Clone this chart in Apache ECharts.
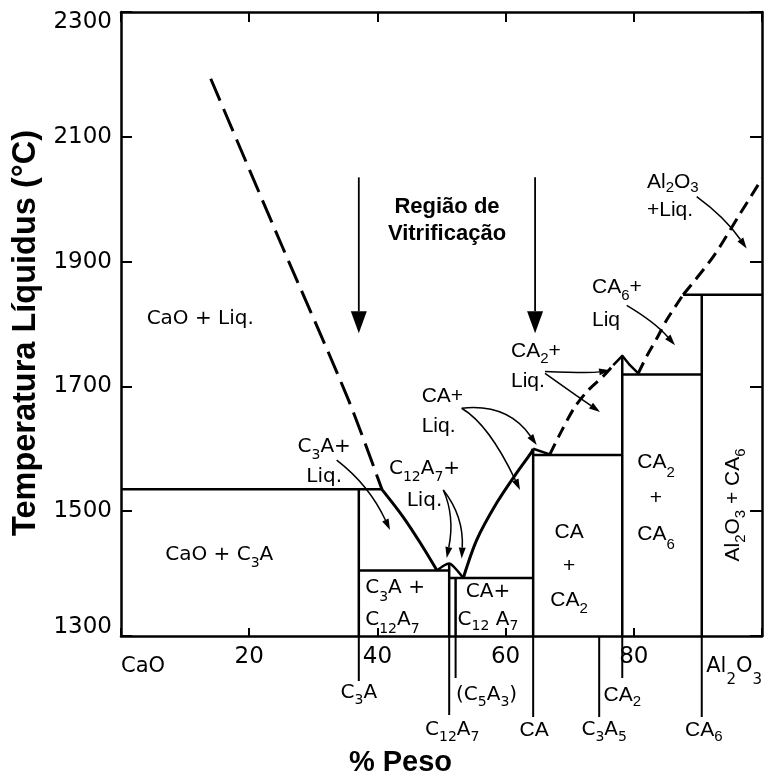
<!DOCTYPE html>
<html lang="pt">
<head>
<meta charset="utf-8">
<title>Diagrama de fases CaO–Al2O3</title>
<script src="https://cdn.jsdelivr.net/npm/echarts@6/dist/echarts.min.js"></script>
<style>
  html, body { margin: 0; padding: 0; background: #fff; }
  #chart { width: 767px; height: 781px; }
</style>
</head>
<body>
<div id="chart"></div>
<script>
// ---------- Axis scales ----------
const tempMin = 1300, tempMax = 2300, tempStep = 200;
const tempTicks = [1300, 1500, 1700, 1900, 2100, 2300];
const wtTicks = [0, 20, 40, 60, 80, 100];
const wtTickLabels = ['CaO', '20', '40', '60', '80', 'Al_2O_3'];

// ---------- Compounds (% peso Al2O3) ----------
const compoundNames = ['C_3A', 'C_{12}A_7', '(C_5A_3)', 'CA', 'C_3A_5', 'CA_2', 'CA_6'];
const compoundWt = [37.1, 51.2, 52.2, 64.3, 74.6, 78.2, 90.6];
const compoundTopT = [1535, 1416, 1393, 1600, null, 1749, 1847];

// ---------- Liquidus, determined (solid) ----------
const liqC3A = [[40.7, 1535], [44.0, 1491], [46.7, 1449], [49.3, 1405]];
const liqC12A7 = [[49.3, 1405], [50.4, 1413], [51.2, 1416], [51.9, 1411], [53.4, 1393]];
const liqCA = [[53.4, 1393], [55.5, 1454], [58.6, 1513], [61.7, 1561], [64.0, 1594], [64.3, 1600]];
const liqCAEutectic = [[64.3, 1600], [66.9, 1591]];
const liqCA2Peak = [[76.8, 1734], [78.2, 1749], [79.4, 1734], [80.7, 1721]];

// ---------- Liquidus, estimated (dashed) ----------
const liqCaO = [[14.0, 2193], [24.7, 1935], [35.5, 1678], [40.7, 1535]];
const liqCA2 = [[66.9, 1591], [68.8, 1630], [70.8, 1667], [72.9, 1694], [75.2, 1716], [76.8, 1734]];
const liqCA6 = [[80.7, 1721], [82.0, 1748], [83.6, 1777], [85.1, 1806], [87.7, 1847]];
const liqAl2O3 = [[87.7, 1847], [92.4, 1908], [96.6, 1977], [100, 2033]];

// ---------- Invariant isotherms ----------
const isoPeritecticC3A = [[0, 1535], [40.7, 1535]];
const isoEutecticC3A_C12A7 = [[37.1, 1405], [51.2, 1405]];
const isoEutecticC12A7_CA = [[51.2, 1393], [64.3, 1393]];
const isoEutecticCA_CA2 = [[64.3, 1590], [78.2, 1590]];
const isoEutecticCA2_CA6 = [[78.2, 1719], [90.6, 1719]];
const isoPeritecticCA6 = [[87.7, 1847], [100, 1847]];

// ---------- Glass-forming region markers ----------
const vitrArrowWt = [37.1, 64.6];
const vitrArrowT = [2035, 1785];

// ---------- Pointer arrows: [wt0, T0, wtCtrl, TCtrl, wt1, T1] ----------
const pointerArrows = [
  [33.65, 1582, 38.7, 1542, 41.97, 1470],   // C3A + Liq.
  [50.28, 1534, 52.1, 1492, 50.81, 1425],   // C12A7 + Liq.
  [50.28, 1534, 53.5, 1492, 53.15, 1424],
  [53.15, 1665, 60.3, 1673, 64.85, 1606],   // CA + Liq.
  [53.15, 1665, 57.4, 1639, 62.25, 1534],
  [66.15, 1724, 73.2, 1721, 76.3, 1726],    // CA2 + Liq.
  [66.15, 1721, 70.4, 1690, 74.73, 1659],
  [78.89, 1830, 83.3, 1803, 86.43, 1766],   // CA6 + Liq
  [89.81, 2004, 94.2, 1971, 97.61, 1921]    // Al2O3 + Liq.
];

// ---------- Field labels ----------
const annotations = [
  { text: 'CaO + Liq.', at: [4.0, 1809], kind: 'letter', align: 'left' },
  { text: 'CaO + C_3A', at: [6.9, 1430], kind: 'letter', align: 'left' },
  { text: 'C_3A+\nLiq.', at: [31.7, 1579], kind: 'letter', align: 'center', lh: 30 },
  { text: 'C_{12}A_7+\nLiq.', at: [47.35, 1543], kind: 'letter', align: 'center', lh: 32 },
  { text: 'CA+\nLiq.', at: [46.9, 1659.5], kind: 'helv', align: 'left', lh: 30 },
  { text: 'C_3A +\nC_{12}A_7', at: [38.1, 1351], kind: 'letter', align: 'left', lh: 32 },
  { text: 'CA+\nC_{12} A_7', at: [57.25, 1348.5], kind: 'letter', align: 'center', lh: 28 },
  { text: 'CA\n+\nCA_2', at: [69.9, 1412.5], kind: 'helv', align: 'center', lh: 34 },
  { text: 'CA_2\n+\nCA_6', at: [83.46, 1520.7], kind: 'helv', align: 'center', lh: 36 },
  { text: 'Al_2O_3 + CA_6', at: [95.5, 1510], kind: 'helv', align: 'center', rotate: 90 },
  { text: 'CA_2+\nLiq.', at: [60.84, 1731.6], kind: 'helv', align: 'left', lh: 30 },
  { text: 'CA_6+\nLiq', at: [73.48, 1833.2], kind: 'helv', align: 'left', lh: 33 },
  { text: 'Al_2O_3\n+Liq.', at: [82.06, 2005.4], kind: 'helv', align: 'left', lh: 28 },
  { text: 'Região de\nVitrificação', at: [50.86, 1966.7], kind: 'bold', align: 'center', lh: 27 }
];

// ---------- Styling ----------
const FONT_LETTER = 'DejaVu Sans';
const FONT_HELV = '"Liberation Sans", Arial, sans-serif';
const INK = '#000';

const textKinds = {
  letter: { family: FONT_LETTER, size: 20, weight: 'normal', lh: 31 },
  helv: { family: FONT_HELV, size: 21, weight: 'normal', lh: 31 },
  bold: { family: FONT_HELV, size: 22, weight: 'bold', lh: 27 }
};

// Tick length below the axis and label offset for each compound marker (px)
const compoundTickLayout = [
  { depth: 45, dx: 0, dy: 57, kind: 'letter' },
  { depth: 79, dx: 3, dy: 94, kind: 'letter' },
  { depth: 42, dx: 31, dy: 59, kind: 'letter' },
  { depth: 81, dx: 1, dy: 94, kind: 'helv' },
  { depth: 81, dx: 5, dy: 94, kind: 'letter' },
  { depth: 42, dx: 0, dy: 59, kind: 'helv' },
  { depth: 81, dx: 2, dy: 94, kind: 'helv' }
];

// 'C_{12}A_7' -> rich text with subscripts
function toRich(markup, base, sub) {
  base = base || 'b'; sub = sub || 's';
  return markup.split('\n').map(function (line) {
    let out = '';
    const re = /_\{([^}]*)\}|_(.)|([^_]+)/g;
    let m;
    while ((m = re.exec(line)) !== null) {
      if (m[3] !== undefined) out += '{' + base + '|' + m[3] + '}';
      else out += '{' + sub + '|' + (m[1] !== undefined ? m[1] : m[2]) + '}';
    }
    return out;
  }).join('\n');
}

function richFor(kind, lh) {
  const subSize = Math.round(kind.size * 0.72);
  const shift = Math.round(kind.size * 0.33);
  return {
    b: { fontFamily: kind.family, fontSize: kind.size, fontWeight: kind.weight, lineHeight: lh, fill: INK, color: INK },
    s: { fontFamily: kind.family, fontSize: subSize, fontWeight: kind.weight, lineHeight: lh - 2 * shift,
         verticalAlign: 'bottom', fill: INK, color: INK }
  };
}

function lineSeries(name, data, width, dash, smooth) {
  return {
    name: name, type: 'line', data: data, symbol: 'none', silent: true,
    smooth: smooth || false, z: 3,
    lineStyle: { color: INK, width: width, type: dash || 'solid', cap: 'butt', join: 'round' }
  };
}

function arrowRenderer(headLen, headWidth, lineWidth) {
  return function (params, api) {
    const p0 = api.coord([api.value(0), api.value(1)]);
    const c = api.coord([api.value(2), api.value(3)]);
    const p1 = api.coord([api.value(4), api.value(5)]);
    const dx = p1[0] - c[0], dy = p1[1] - c[1];
    const len = Math.sqrt(dx * dx + dy * dy) || 1;
    const ux = dx / len, uy = dy / len;
    const bx = p1[0] - ux * headLen, by = p1[1] - uy * headLen;
    const hw = headWidth / 2;
    return {
      type: 'group',
      children: [
        { type: 'bezierCurve',
          shape: { x1: p0[0], y1: p0[1], cpx1: c[0], cpy1: c[1], x2: bx, y2: by },
          style: { stroke: INK, fill: null, lineWidth: lineWidth } },
        { type: 'polygon',
          shape: { points: [[p1[0], p1[1]], [bx - uy * hw, by + ux * hw], [bx + uy * hw, by - ux * hw]] },
          style: { fill: INK } }
      ]
    };
  };
}

const tickNum = { fontFamily: FONT_LETTER, fontSize: 23, lineHeight: 22, color: INK };

const series = [
  // invariant isotherms
  lineSeries('isoPeritecticC3A', isoPeritecticC3A, 2.5),
  lineSeries('isoEutecticC3A_C12A7', isoEutecticC3A_C12A7, 2.5),
  lineSeries('isoEutecticC12A7_CA', isoEutecticC12A7_CA, 2.5),
  lineSeries('isoEutecticCA_CA2', isoEutecticCA_CA2, 2.5),
  lineSeries('isoEutecticCA2_CA6', isoEutecticCA2_CA6, 2.5),
  lineSeries('isoPeritecticCA6', isoPeritecticCA6, 2.5),
  // solid liquidus
  lineSeries('liqC3A', liqC3A, 3, 'solid', 0.3),
  lineSeries('liqC12A7', liqC12A7, 2.5, 'solid', 0.3),
  lineSeries('liqCA', liqCA, 3, 'solid', 0.3),
  lineSeries('liqCAEutectic', liqCAEutectic, 2.5),
  lineSeries('liqCA2Peak', liqCA2Peak, 2.5),
  // dashed liquidus
  lineSeries('liqCaO', liqCaO, 3, [24, 9], 0.3),
  lineSeries('liqCA2', liqCA2, 3, [12, 7], 0.3),
  lineSeries('liqCA6', liqCA6, 3, [12, 7], 0.3),
  lineSeries('liqAl2O3', liqAl2O3, 3, [13, 7], 0.3)
];

// compound verticals
compoundWt.forEach(function (w, i) {
  if (compoundTopT[i] != null) {
    series.push(lineSeries('comp-' + i, [[w, compoundTopT[i]], [w, tempMin]], 2.5));
  }
});

// compound markers below the composition axis
series.push({
  type: 'custom', name: 'compounds', clip: false, silent: true, z: 5,
  data: compoundWt.map(function (w) { return [w, tempMin]; }),
  renderItem: function (params, api) {
    const i = params.dataIndex;
    const lay = compoundTickLayout[i];
    const kind = textKinds[lay.kind];
    const p = api.coord([api.value(0), api.value(1)]);
    return {
      type: 'group',
      children: [
        { type: 'line', shape: { x1: p[0], y1: p[1], x2: p[0], y2: p[1] + lay.depth },
          style: { stroke: INK, lineWidth: 2 } },
        { type: 'text', x: p[0] + lay.dx, y: p[1] + lay.dy,
          style: { text: toRich(compoundNames[i]), rich: richFor(kind, 28),
                   align: 'center', verticalAlign: 'middle', fill: INK } }
      ]
    };
  }
});

// vertical arrows bounding the glass-forming range
series.push({
  type: 'custom', name: 'vitrification', clip: false, silent: true, z: 4,
  data: vitrArrowWt.map(function (w) {
    return [w, vitrArrowT[0], w, (vitrArrowT[0] + vitrArrowT[1]) / 2, w, vitrArrowT[1]];
  }),
  encode: { x: [0, 2, 4], y: [1, 3, 5] },
  renderItem: arrowRenderer(22, 16, 1.8)
});

// pointer arrows from field labels
series.push({
  type: 'custom', name: 'pointers', clip: false, silent: true, z: 4,
  data: pointerArrows,
  encode: { x: [0, 2, 4], y: [1, 3, 5] },
  renderItem: arrowRenderer(11, 7, 1.5)
});

// field labels
series.push({
  type: 'custom', name: 'fields', clip: false, silent: true, z: 6,
  data: annotations.map(function (a) { return a.at; }),
  renderItem: function (params, api) {
    const a = annotations[params.dataIndex];
    const kind = textKinds[a.kind];
    const p = api.coord([api.value(0), api.value(1)]);
    return {
      type: 'text', x: p[0], y: p[1],
      rotation: a.rotate ? a.rotate * Math.PI / 180 : 0,
      style: { text: toRich(a.text), rich: richFor(kind, a.lh || kind.lh),
               align: a.align, verticalAlign: 'middle', fill: INK }
    };
  }
});

const axisLineStyle = { color: INK, width: 2.5 };

const option = {
  animation: false,
  backgroundColor: '#fff',
  grid: { left: 121, right: 5, top: 12, bottom: 145, containLabel: false, outerBoundsMode: 'none' },
  xAxis: [
    {
      type: 'value', position: 'bottom', min: 0, max: 100, interval: 20,
      axisLine: { show: true, onZero: false, lineStyle: axisLineStyle },
      axisTick: { show: true, inside: true, length: 8, lineStyle: { color: INK, width: 2 } },
      splitLine: { show: false },
      axisLabel: {
        show: true, margin: 10, showMinLabel: true, showMaxLabel: true,
        alignMinLabel: 'left', alignMaxLabel: 'right',
        formatter: function (v) {
          const i = wtTicks.indexOf(v);
          if (i < 0) return '';
          if (i === 0 || i === wtTicks.length - 1) return toRich(wtTickLabels[i], 'eb', 'es');
          return '{n|' + wtTickLabels[i] + '}';
        },
        rich: {
          n: tickNum,
          eb: { fontFamily: FONT_LETTER, fontSize: 21, lineHeight: 42, color: INK },
          es: { fontFamily: FONT_LETTER, fontSize: 15, lineHeight: 28, verticalAlign: 'bottom', color: INK }
        }
      },
      name: '% Peso', nameLocation: 'middle', nameGap: 112,
      nameTextStyle: { fontFamily: FONT_HELV, fontWeight: 'bold', fontSize: 29, color: INK, padding: [0, 82, 0, 0] }
    },
    {
      type: 'value', position: 'top', min: 0, max: 100, interval: 20,
      axisLine: { show: true, onZero: false, lineStyle: axisLineStyle },
      axisTick: { show: true, inside: true, length: 10, lineStyle: { color: INK, width: 2 } },
      axisLabel: { show: false }, splitLine: { show: false }
    }
  ],
  yAxis: [
    {
      type: 'value', position: 'left', min: tempMin, max: tempMax, interval: tempStep,
      axisLine: { show: true, onZero: false, lineStyle: axisLineStyle },
      axisTick: { show: true, inside: true, length: 11, lineStyle: { color: INK, width: 2 } },
      splitLine: { show: false },
      axisLabel: {
        show: true, margin: 9, showMinLabel: true, showMaxLabel: true,
        formatter: function (v) {
          if (tempTicks.indexOf(v) < 0) return '';
          if (v === tempMax) return '{t|' + v + '}';
          if (v === tempMin) return '{u|' + v + '}';
          return '{n|' + v + '}';
        },
        rich: {
          n: tickNum,
          t: Object.assign({}, tickNum, { padding: [20, 0, 0, 0] }),
          u: Object.assign({}, tickNum, { padding: [0, 0, 18, 0] })
        }
      },
      name: 'Temperatura Líquidus (°C)', nameLocation: 'middle', nameGap: 72,
      nameTextStyle: { fontFamily: FONT_HELV, fontWeight: 'bold', fontSize: 32.5, color: INK, padding: [0, 18, 0, 0] }
    },
    {
      type: 'value', position: 'right', min: tempMin, max: tempMax, interval: tempStep,
      axisLine: { show: true, onZero: false, lineStyle: axisLineStyle },
      axisTick: { show: true, inside: true, length: 12, lineStyle: { color: INK, width: 2 } },
      axisLabel: { show: false }, splitLine: { show: false }
    }
  ],
  series: series
};

const chart = echarts.init(document.getElementById('chart'), null, { renderer: 'canvas' });
chart.setOption(option);
</script>
</body>
</html>
